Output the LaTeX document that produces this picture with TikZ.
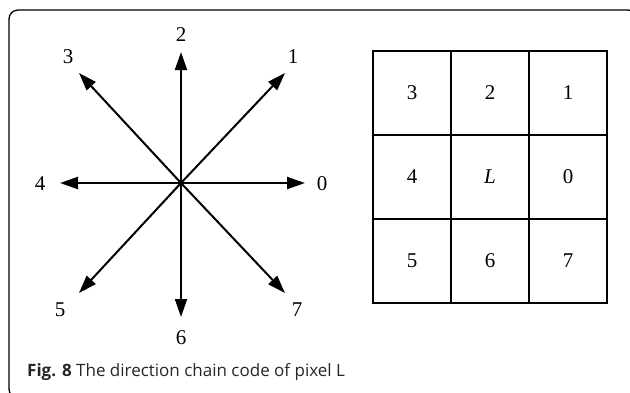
\documentclass[tikz,border=0pt]{standalone}
\usepackage{fontspec}
\setmainfont{Liberation Serif}
\newfontfamily\capfont{Open Sans}
\usetikzlibrary{arrows.meta}
\begin{document}
\begin{tikzpicture}[x=1pt,y=-1pt,
  arr/.style={line width=2pt,-{Triangle[length=18pt,width=12pt]}},
  lab/.style={font=\fontsize{21}{21}\selectfont, inner sep=0pt},
  cell/.style={draw, line width=1.5pt, minimum width=78pt, minimum height=84pt, inner sep=0pt, font=\fontsize{21}{21}\selectfont},
  frame/.style={line width=1.3pt, rounded corners=9pt}]
\useasboundingbox (0,0) rectangle (630,392);
\begin{scope}
\clip (0,0) rectangle (630,392);
\draw[frame] (9,10) rectangle (637,398);
\end{scope}
% star
\coordinate (c) at (181,183);
\coordinate (t0) at (305,183);
\coordinate (t1) at (285,73);
\coordinate (t2) at (181,52);
\coordinate (t3) at (79,73);
\coordinate (t4) at (60,183);
\coordinate (t5) at (79,293);
\coordinate (t6) at (181,317);
\coordinate (t7) at (285,293);
\foreach \i in {0,...,7} {\draw[arr] (c) -- (t\i);}
\node[lab] (n0) at (322,184) {0};
\node[lab] (n1) at (293,57) {1};
\node[lab] (n2) at (181,35) {2};
\node[lab] (n3) at (68,57) {3};
\node[lab] (n4) at (40,184) {4};
\node[lab] (n5) at (60,310) {5};
\node[lab] (n6) at (181,338) {6};
\node[lab] (n7) at (297,310) {7};
% grid
\node[cell] (g3) at (412,93) {3};
\node[cell] (g2) at (490,93) {2};
\node[cell] (g1) at (568,93) {1};
\node[cell] (g4) at (412,177) {4};
\node[cell] (gL) at (490,177) {\textit{L}};
\node[cell] (g0) at (568,177) {0};
\node[cell] (g5) at (412,261) {5};
\node[cell] (g6) at (490,261) {6};
\node[cell] (g7) at (568,261) {7};
% caption
\node[anchor=base west, inner sep=0pt, text=black!85] (cap) at (27,376) {\capfont\fontsize{17}{17}\selectfont\textbf{Fig. 8} The direction chain code of pixel L};
\end{tikzpicture}
\end{document}
